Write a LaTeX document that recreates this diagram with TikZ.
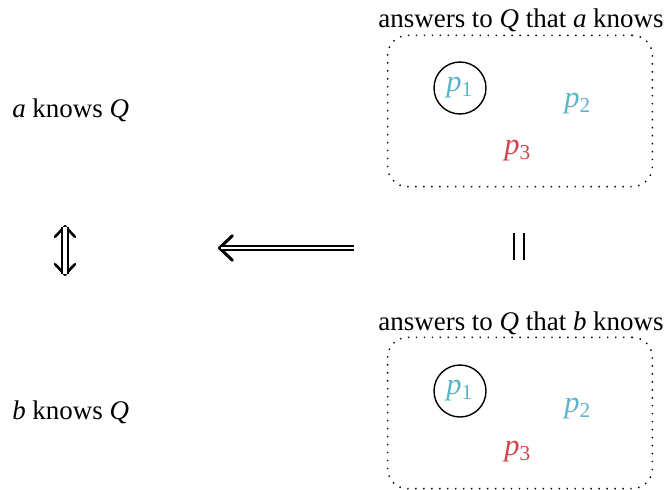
\documentclass[tikz,border=0pt]{standalone}
\usepackage{fontspec}
\setmainfont{Liberation Serif}
\usepackage{xcolor}
\usepackage{tikz}
\usetikzlibrary{arrows.meta, positioning}
\definecolor{goodans}{HTML}{5BB4C9}
\definecolor{badans}{HTML}{D2444B}
\newcommand{\ans}[1]{\textit{p}\textsubscript{#1}}
\tikzset{
  answer set/.style={
    draw,
    line width=0.6pt,
    dash pattern=on 0.6pt off 2.8pt,
    rounded corners=0.3cm,
    minimum width=3.97cm,
    minimum height=2.27cm
  },
  set title/.style={
    inner sep=1pt
  },
  chosen/.style={
    circle,
    draw,
    line width=0.6pt,
    minimum size=0.78cm,
    inner sep=0pt,
    text=goodans,
    font=\fontsize{13}{15}\selectfont
  },
  good/.style={text=goodans, font=\fontsize{13}{15}\selectfont},
  bad/.style={text=badans, font=\fontsize{13}{15}\selectfont},
  imp tip/.style={
    line width=0.2pt,
    -{Straight Barb[length=5.5pt, width=10.5pt, line width=1.3pt, round]}
  },
  imp line/.style={
    double,
    double distance=0.9pt,
    line width=0.65pt,
    shorten >=1.2pt
  },
  iff tip/.style={
    line width=0.2pt,
    {Straight Barb[length=4.5pt, width=8.5pt, line width=1.1pt, round]}-{Straight Barb[length=4.5pt, width=8.5pt, line width=1.1pt, round]}
  },
  iff line/.style={
    double,
    double distance=1.8pt,
    line width=0.65pt,
    shorten <=1pt,
    shorten >=1pt
  },
  same lines/.style={
    line width=0.9pt
  }
}

\begin{document}
\begin{tikzpicture}[x=0.015cm, y=-0.015cm, font=\fontsize{11.5}{14}\selectfont]
  \useasboundingbox (0,0) rectangle (669,489);

  % Left side
  \node[anchor=west] (aknows) at (4,110) {\textit{a} knows \textit{Q}};
  \node[anchor=west] (bknows) at (4,412) {\textit{b} knows \textit{Q}};
  \coordinate (iff top) at (65,225);
  \coordinate (iff bot) at (65,276);
  \draw[iff tip] (iff top) -- (iff bot);
  \draw[iff line] (iff top) -- (iff bot);

  % Implication
  \coordinate (imp start) at (354,248);
  \coordinate (imp end) at (218,248);
  \draw[imp tip] (imp start) -- (imp end);
  \draw[imp line] (imp start) -- (imp end);

  % Top set
  \node[set title] (titlea) at (521,20) {answers to \textit{Q} that \textit{a} knows};
  \node[answer set] (seta) at (520,111) {};
  \node[chosen] (pa1) at (460,88) {\ans{1}};
  \node[good] (pa2) at (578,104) {\ans{2}};
  \node[bad] (pa3) at (518,151) {\ans{3}};

  % Equal
  \coordinate (same a) at (514,233);
  \coordinate (same b) at (514,260);
  \coordinate (same c) at (524,233);
  \coordinate (same d) at (524,260);
  \draw[same lines] (same a) -- (same b);
  \draw[same lines] (same c) -- (same d);

  % Bottom set
  \node[set title] (titleb) at (521,323) {answers to \textit{Q} that \textit{b} knows};
  \node[answer set] (setb) at (520,413) {};
  \node[chosen] (pb1) at (460,391) {\ans{1}};
  \node[good] (pb2) at (578,409) {\ans{2}};
  \node[bad] (pb3) at (518,452) {\ans{3}};
\end{tikzpicture}
\end{document}
